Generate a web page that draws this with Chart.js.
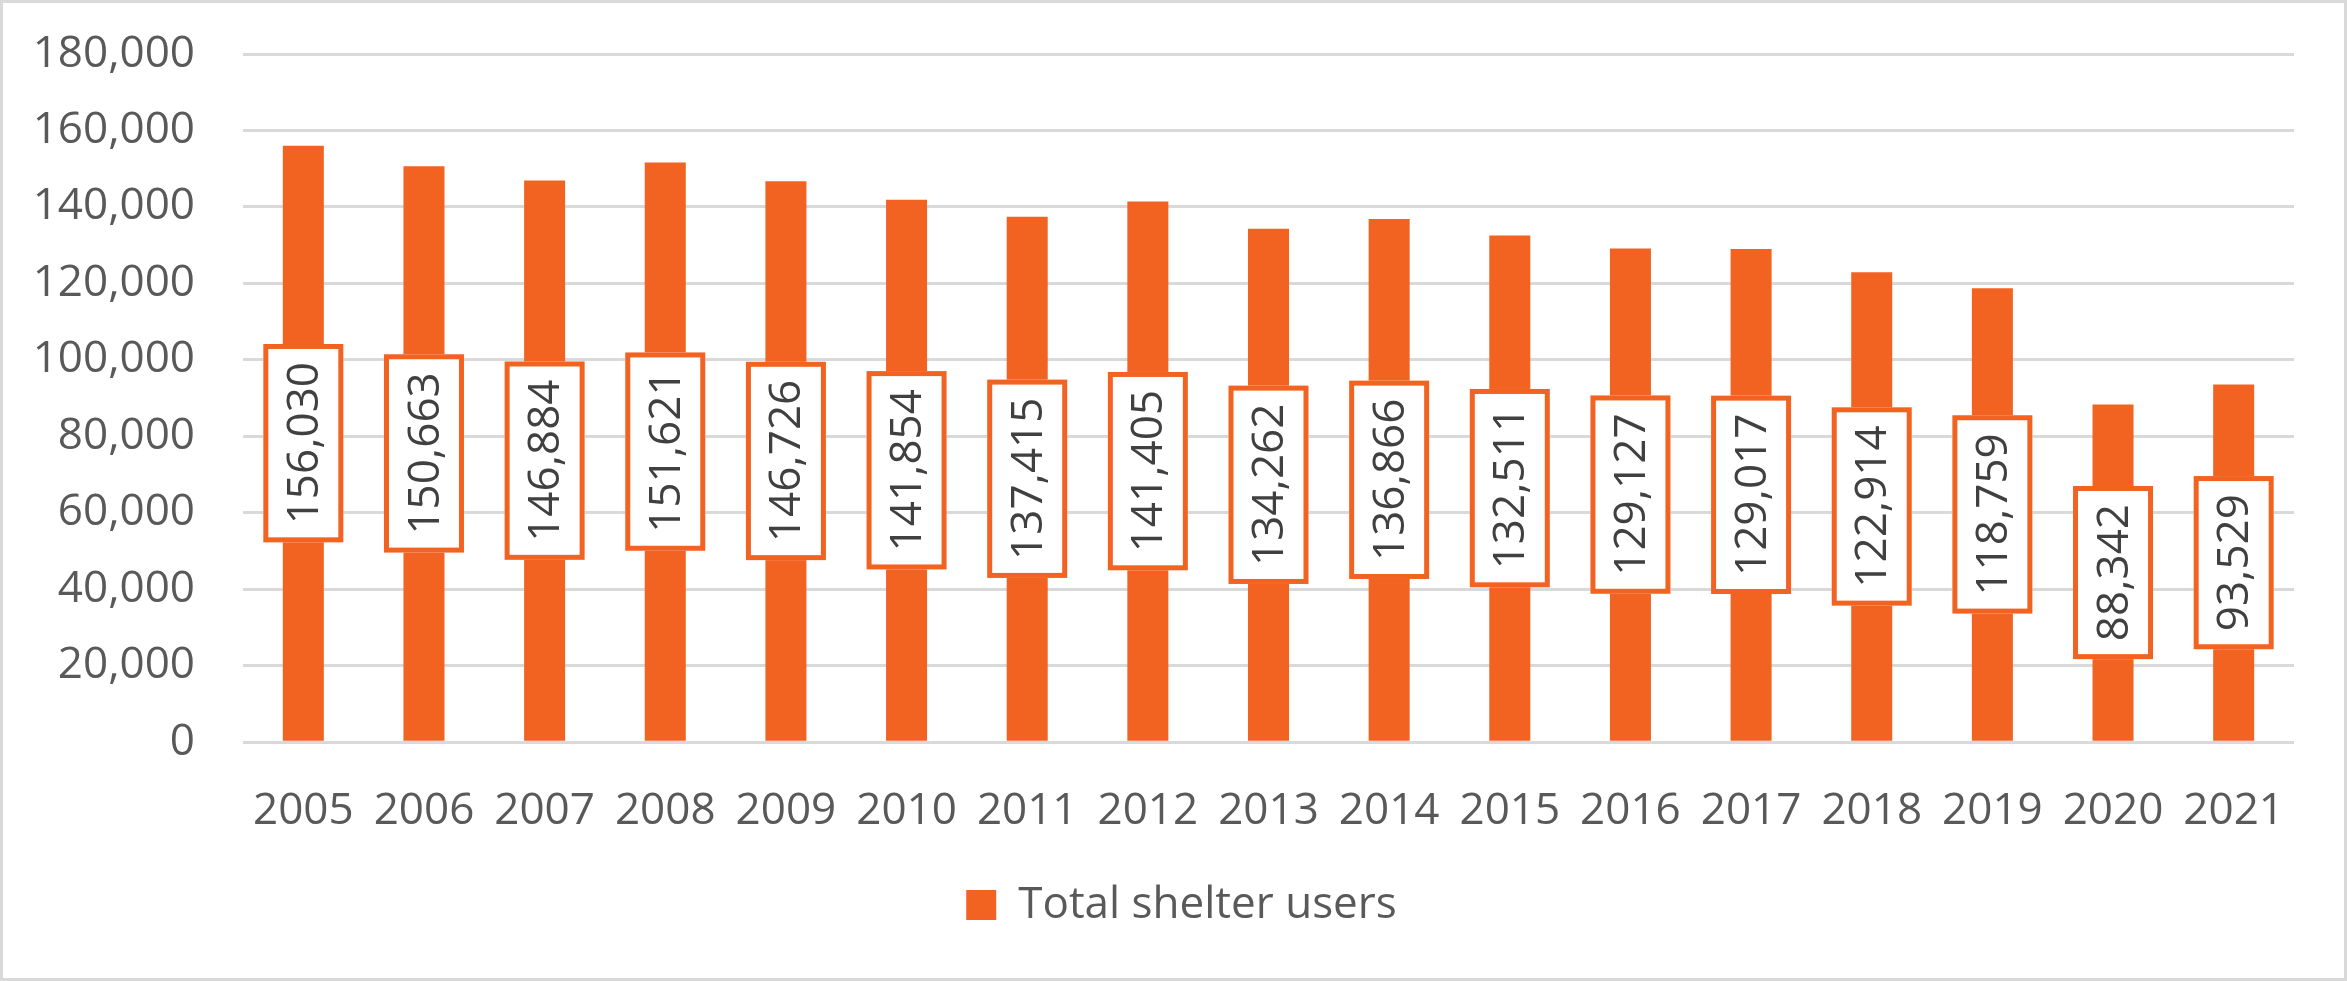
<!DOCTYPE html>
<html>
<head>
<meta charset="utf-8">
<script src="https://cdn.jsdelivr.net/npm/chart.js@4.4.0/dist/chart.umd.min.js"></script>
<style>
  html, body { margin: 0; padding: 0; background: #fff; }
  #wrap { width: 2347px; height: 981px; box-sizing: border-box; border: 3px solid #d9d9d9; background: #fff; }
  canvas { display: block; }
</style>
</head>
<body>
<div id="wrap"><canvas id="chart" width="2341" height="975"></canvas></div>
<script>
const years = ['2005','2006','2007','2008','2009','2010','2011','2012','2013','2014','2015','2016','2017','2018','2019','2020','2021'];
const shelterUsers = [156030,150663,146884,151621,146726,141854,137415,141405,134262,136866,132511,129127,129017,122914,118759,88342,93529];
const yTickValues = [0,20000,40000,60000,80000,100000,120000,140000,160000,180000];

const orange = '#F26322';
const fontFamily = '"Open Sans", "Noto Sans", sans-serif';

// boxed, rotated value labels in the middle of each bar
const boxLabels = {
    id: 'boxLabels',
    afterLayout(chart) {
        // nudge the legend a bit right, like the original
        chart.legend.left += 18;
        chart.legend.right += 18;
    },
    afterDatasetsDraw(chart) {
        const ctx = chart.ctx;
        const meta = chart.getDatasetMeta(0);
        ctx.save();
        ctx.font = '44px ' + fontFamily;
        meta.data.forEach((bar, i) => {
            const text = shelterUsers[i].toLocaleString('en-US');
            const tw = ctx.measureText(text).width;
            const boxW = 80, boxH = tw + 36;
            const cx = bar.x, cy = (bar.y + bar.base) / 2;
            ctx.fillStyle = '#fff';
            ctx.fillRect(cx - boxW / 2, cy - boxH / 2, boxW, boxH);
            ctx.strokeStyle = orange;
            ctx.lineWidth = 5;
            ctx.strokeRect(cx - boxW / 2 + 2.5, cy - boxH / 2 + 2.5, boxW - 5, boxH - 5);
            ctx.translate(cx, cy);
            ctx.rotate(-Math.PI / 2);
            ctx.fillStyle = '#404040';
            ctx.textAlign = 'center';
            ctx.textBaseline = 'middle';
            ctx.fillText(text, 0, 2);
            ctx.setTransform(1, 0, 0, 1, 0, 0);
        });
        ctx.restore();
    }
};

new Chart(document.getElementById('chart').getContext('2d'), {
    type: 'bar',
    data: {
        labels: years,
        datasets: [{
            label: 'Total shelter users',
            data: shelterUsers,
            backgroundColor: orange,
            borderWidth: 0,
            barPercentage: 0.34,
            categoryPercentage: 1
        }]
    },
    options: {
        responsive: false,
        animation: false,
        layout: { padding: { left: 30, right: 50, top: 51, bottom: 41 } },
        plugins: {
            tooltip: { enabled: false },
            legend: {
                position: 'bottom',
                labels: {
                    boxWidth: 30, boxHeight: 30,
                    color: '#595959',
                    font: { family: fontFamily, size: 44 },
                    padding: 10
                }
            }
        },
        scales: {
            x: {
                grid: { display: false },
                border: { display: false },
                ticks: { color: '#595959', font: { family: fontFamily, size: 44 }, padding: 35, maxRotation: 0 }
            },
            y: {
                min: 0,
                max: 180000,
                afterBuildTicks: (s) => { s.ticks = yTickValues.map(v => ({ value: v })); },
                afterFit: (s) => { s.width = 210; },
                grid: { color: '#d9d9d9', lineWidth: 3, drawTicks: true, tickLength: 48, tickColor: 'rgba(0,0,0,0)' },
                border: { display: false },
                ticks: {
                    color: '#595959',
                    font: { family: fontFamily, size: 44 },
                    padding: 0,
                    callback: (v) => v.toLocaleString('en-US')
                }
            }
        }
    },
    plugins: [boxLabels]
});
</script>
</body>
</html>
